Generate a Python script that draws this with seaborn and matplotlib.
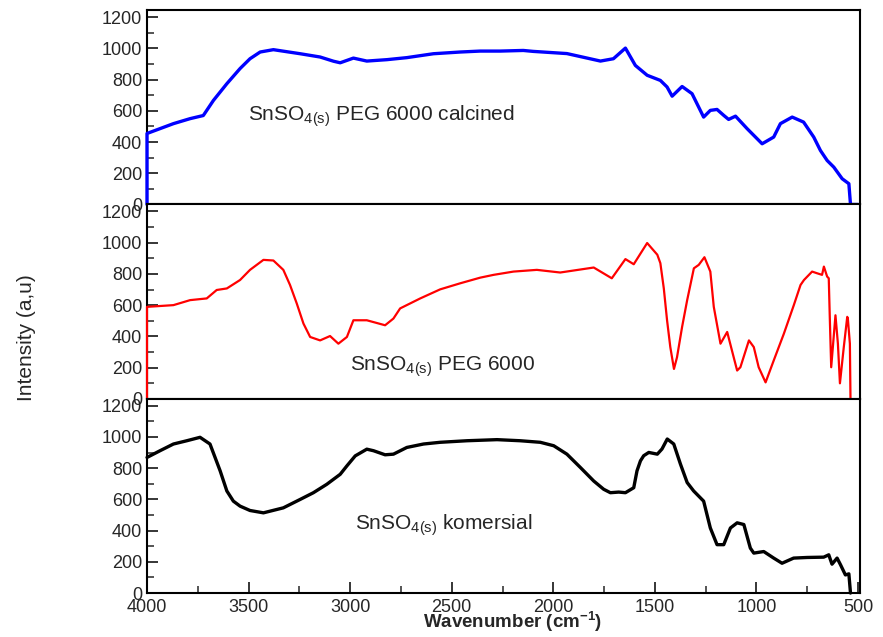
import numpy as np
import pandas as pd
import matplotlib
matplotlib.use("Agg")
import matplotlib.pyplot as plt
import seaborn as sns
from matplotlib.ticker import MultipleLocator

# Datos (numero de onda en cm-1, intensidad a.u.)
calc_x = [4000, 4000, 3870, 3788, 3723, 3673, 3607, 3542, 3493, 3443, 3378, 3246,
          3148, 3082, 3049, 2984, 2918, 2819, 2721, 2590, 2458, 2360, 2261, 2148,
          2099, 1933, 1768, 1704, 1645, 1596, 1538, 1473, 1440, 1415, 1366, 1317,
          1260, 1227, 1194, 1161, 1137, 1103, 1046, 972, 915, 882, 824, 768, 718,
          685, 652, 619, 578, 545, 537, 500]
calc_y = [0, 455, 518, 550, 570, 667, 774, 871, 934, 977, 992, 966,
          945, 918, 908, 938, 919, 928, 941, 966, 977, 983, 983, 987,
          981, 967, 919, 934, 1002, 891, 828, 795, 753, 694, 756, 710,
          560, 603, 609, 571, 545, 566, 486, 389, 432, 518, 560, 528, 432,
          346, 282, 239, 165, 133, 0, 0]

peg_x = [4000, 4000, 3952, 3870, 3788, 3706, 3657, 3607, 3542, 3493, 3427, 3378,
         3329, 3296, 3263, 3230, 3197, 3148, 3099, 3058, 3016, 2984, 2918, 2828,
         2787, 2754, 2655, 2557, 2458, 2360, 2294, 2196, 2081, 1966, 1801, 1712,
         1645, 1604, 1538, 1488, 1473, 1456, 1440, 1424, 1406, 1391, 1366, 1341,
         1308, 1284, 1256, 1227, 1210, 1177, 1144, 1112, 1095, 1079, 1037, 1013,
         989, 955, 915, 865, 816, 783, 766, 726, 701, 677, 668, 652, 644, 639,
         632, 611, 599, 589, 570, 553, 550, 540, 537]
peg_y = [0, 589, 593, 600, 632, 643, 697, 707, 761, 826, 890, 886,
         826, 729, 611, 482, 396, 374, 402, 353, 396, 503, 503, 471,
         514, 579, 643, 701, 740, 776, 794, 815, 826, 809, 841, 772,
         895, 862, 998, 923, 869, 707, 503, 331, 191, 266, 460, 632,
         836, 858, 907, 815, 589, 353, 428, 266, 181, 202, 374, 331,
         202, 105, 245, 417, 600, 729, 761, 815, 804, 794, 847, 783, 772, 525,
         202, 535, 353, 99, 331, 525, 514, 353, 0]

kom_x = [4000, 3936, 3870, 3804, 3739, 3690, 3665, 3640, 3607, 3575, 3542, 3493,
         3427, 3329, 3246, 3181, 3115, 3049, 3016, 2975, 2918, 2885, 2828, 2787,
         2721, 2639, 2557, 2425, 2277, 2163, 2064, 1998, 1933, 1867, 1801, 1752,
         1719, 1678, 1645, 1604, 1588, 1571, 1555, 1530, 1488, 1465, 1439, 1407,
         1374, 1341, 1309, 1260, 1227, 1194, 1161, 1128, 1095, 1062, 1030, 1013,
         964, 915, 874, 817, 750, 669, 644, 628, 603, 586, 562, 545, 537]
kom_y = [869, 912, 955, 976, 998, 955, 869, 783, 654, 589, 557, 529,
         514, 546, 600, 643, 697, 761, 815, 879, 922, 912, 886, 890,
         933, 955, 966, 976, 983, 976, 966, 944, 890, 805, 718, 665,
         643, 647, 643, 675, 783, 847, 880, 901, 890, 923, 987, 955,
         826, 708, 654, 589, 417, 310, 310, 417, 450, 439, 288, 256,
         266, 224, 191, 224, 228, 230, 245, 185, 224, 181, 116, 123, 0]

panel_labels = [r"SnSO$_\mathregular{4(s)}$ PEG 6000 calcined",
                r"SnSO$_\mathregular{4(s)}$ PEG 6000",
                r"SnSO$_\mathregular{4(s)}$ komersial"]

sns.set_style("ticks")
plt.rcParams['font.family'] = ['Liberation Sans', 'DejaVu Sans']

fig, axes = plt.subplots(3, 1, figsize=(8.83, 6.37), dpi=100, sharex=True)
fig.subplots_adjust(left=0.1665, right=0.974, top=0.984, bottom=0.069, hspace=0)

series = [(calc_x, calc_y, '#0000ff', 2.4), (peg_x, peg_y, '#ff0000', 1.6),
          (kom_x, kom_y, 'black', 2.4)]
label_pos = [(3502, 539), (3000, 181), (2975, 406)]

for ax, (xs, ys, col, lw), lab, (tx, ty) in zip(axes, series, panel_labels, label_pos):
    df = pd.DataFrame({'x': xs, 'y': ys})
    sns.lineplot(data=df, x='x', y='y', ax=ax, color=col, linewidth=lw,
                 estimator=None, sort=False, clip_on=False, zorder=5)
    ax.set_xlim(4000, 490)
    ax.set_ylim(0, 1245)
    ax.yaxis.set_major_locator(MultipleLocator(200))
    ax.yaxis.set_minor_locator(MultipleLocator(100))
    ax.tick_params(axis='y', which='major', direction='in', length=8, width=1.3,
                   labelsize=13)
    ax.tick_params(axis='y', which='minor', direction='in', length=5, width=1.1)
    ax.set_ylabel('')
    ax.set_xlabel('')
    for s in ax.spines.values():
        s.set_visible(True)
        s.set_linewidth(1.5)
        s.set_color('black')
    ax.text(tx, ty, lab, fontsize=15, va='baseline', ha='left')

for ax in axes[:2]:
    ax.tick_params(axis='x', which='both', bottom=False, labelbottom=False)

ax = axes[2]
ax.xaxis.set_major_locator(MultipleLocator(500))
ax.xaxis.set_minor_locator(MultipleLocator(250))
ax.tick_params(axis='x', which='major', direction='in', length=8, width=1.3,
               labelsize=13, pad=4)
ax.tick_params(axis='x', which='minor', direction='in', length=5, width=1.1)

fig.text(0.58, 0.004, r"Wavenumber (cm$^\mathregular{-1}$)", fontsize=13.5,
         fontweight='bold', ha='center', va='bottom')
fig.text(0.03, 0.47, 'Intensity (a,u)', rotation=90, va='center', ha='center',
         fontsize=15, family=['Liberation Sans Narrow', 'Liberation Sans'])

plt.savefig('out.png', dpi=100)
